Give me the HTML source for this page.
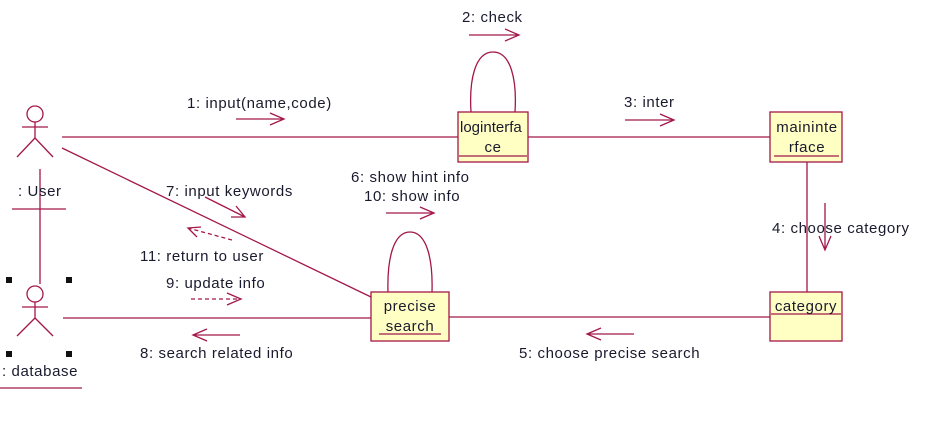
<!DOCTYPE html>
<html><head><meta charset="utf-8"><style>
html,body{margin:0;padding:0;background:#fff;width:926px;height:429px;overflow:hidden}
svg text{font-family:"Liberation Sans",sans-serif;font-size:15px;letter-spacing:0.6px;fill:#1a1a2e}
</style></head><body>
<svg width="926" height="429" viewBox="0 0 926 429" xmlns="http://www.w3.org/2000/svg">
<g stroke="#a3174a" stroke-width="1.3" fill="none">
<circle cx="35" cy="114" r="8"/>
<line x1="22" y1="127" x2="48" y2="127"/>
<line x1="35" y1="122" x2="35" y2="138"/>
<line x1="35" y1="138" x2="17" y2="157"/>
<line x1="35" y1="138" x2="53" y2="157"/>
<line x1="12" y1="209" x2="66" y2="209"/>
<line x1="40" y1="169" x2="40" y2="284"/>
<circle cx="35" cy="294" r="8"/>
<line x1="22" y1="307" x2="48" y2="307"/>
<line x1="35" y1="302" x2="35" y2="318"/>
<line x1="35" y1="318" x2="17" y2="336"/>
<line x1="35" y1="318" x2="53" y2="336"/>
<line x1="0" y1="388" x2="82" y2="388"/>
<line x1="62" y1="137" x2="458" y2="137"/>
<line x1="528" y1="137" x2="770" y2="137"/>
<line x1="62" y1="148" x2="371" y2="297"/>
<line x1="63" y1="318" x2="371" y2="318"/>
<line x1="449" y1="317" x2="770" y2="317"/>
<line x1="807" y1="162" x2="807" y2="292"/>
<path d="M471 112 C469 80 475 52 493 52 C511 52 517 80 515 112"/>
<path d="M388 292 C387 260 393 232 410 232 C427 232 433 260 432 292"/>
<path d="M236 119 H284 M270 113 L284 119 L270 125"/>
<path d="M469 35 H519 M505 29 L519 35 L505 41"/>
<path d="M625 120 H674 M660 114 L674 120 L660 126"/>
<path d="M386 213 H434 M420 207 L434 213 L420 219"/>
<path d="M825 203 V250 M819 236 L825 250 L831 236"/>
<path d="M634 334 H587 M601 328 L587 334 L601 340"/>
<path d="M240 335 H193 M207 329 L193 335 L207 341"/>
<path d="M205 197 L245 217 M231 217 L245 217 L236 206"/>
<path d="M232 240 L188 228" stroke-dasharray="4,3"/>
<path d="M197 237 L188 228 L201 227"/>
<path d="M191 299 H241" stroke-dasharray="4,3"/>
<path d="M227 293 L241 299 L227 305"/>
</g>
<g fill="#111">
<rect x="6" y="277" width="6" height="6"/><rect x="66" y="277" width="6" height="6"/>
<rect x="6" y="351" width="6" height="6"/><rect x="66" y="351" width="6" height="6"/>
</g>
<g stroke="#a3174a" stroke-width="1.3" fill="#ffffc4">
<rect x="458" y="112" width="70" height="50"/>
<rect x="770" y="112" width="72" height="50"/>
<rect x="371" y="292" width="78" height="49"/>
<rect x="770" y="292" width="72" height="49"/>
</g>
<g stroke="#a3174a" stroke-width="1.3">
<line x1="459" y1="156" x2="527" y2="156"/>
<line x1="774" y1="156" x2="839" y2="156"/>
<line x1="379" y1="334" x2="441" y2="334"/>
<line x1="771" y1="314" x2="841" y2="314"/>
</g>
<text x="460" y="132" style="letter-spacing:0">loginterfa</text>
<text x="493" y="152" text-anchor="middle">ce</text>
<text x="807" y="132" text-anchor="middle">maininte</text>
<text x="807" y="152" text-anchor="middle">rface</text>
<text x="410" y="311" text-anchor="middle">precise</text>
<text x="410" y="331" text-anchor="middle">search</text>
<text x="806" y="311" text-anchor="middle">category</text>
<text x="18" y="196">: User</text>
<text x="2" y="376">: database</text>
<text x="187" y="108">1: input(name,code)</text>
<text x="462" y="22">2: check</text>
<text x="624" y="107">3: inter</text>
<text x="351" y="182">6: show hint info</text>
<text x="364" y="201">10: show info</text>
<text x="166" y="196">7: input keywords</text>
<text x="140" y="261">11: return to user</text>
<text x="166" y="288">9: update info</text>
<text x="140" y="358">8: search related info</text>
<text x="519" y="358">5: choose precise search</text>
<text x="772" y="233">4: choose category</text>
</svg>
</body></html>
